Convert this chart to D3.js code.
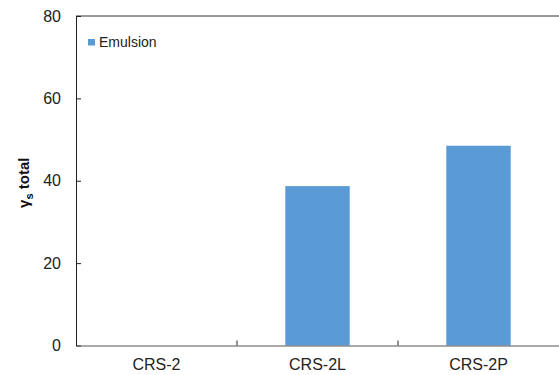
<!DOCTYPE html>
<html><head><meta charset="utf-8">
<script src="https://cdn.jsdelivr.net/npm/d3@7"></script>
<style>body{margin:0;background:#fff}svg{display:block}</style>
</head><body>
<script>
const categories = ["CRS-2", "CRS-2L", "CRS-2P"];
const emulsion = [0, 38.7, 48.5];
const yTicks = [0, 20, 40, 60, 80];
const seriesName = "Emulsion";

const W = 559, H = 375;
const m = {left: 76, right: 0, top: 16, bottom: 29.5};
const svg = d3.select("body").append("svg").attr("width", W).attr("height", H);
const x = d3.scaleBand().domain(categories).range([m.left, W - m.right]);
const y = d3.scaleLinear().domain([0, 80]).range([H - m.bottom, m.top]);
const font = "Liberation Sans, Arial, sans-serif";

// bars
const bw = x.bandwidth() * 0.4;
svg.selectAll("rect.bar").data(categories).enter().append("rect")
  .attr("x", (d) => x(d) + (x.bandwidth() - bw) / 2)
  .attr("y", (d, i) => y(emulsion[i]))
  .attr("width", bw)
  .attr("height", (d, i) => y(0) - y(emulsion[i]))
  .attr("fill", "#5b9bd5");

// frame: top
svg.append("line").attr("x1", m.left).attr("x2", W).attr("y1", y(80)).attr("y2", y(80))
  .attr("stroke", "#333").attr("stroke-width", 1);

// y axis
const ya = svg.append("g").attr("transform", `translate(${m.left},0)`)
  .call(d3.axisLeft(y).tickValues(yTicks).tickSizeInner(-5).tickSizeOuter(0).tickPadding(15));
ya.select(".domain").attr("stroke", "#222");
ya.selectAll(".tick line").attr("stroke", "#222");
ya.selectAll("text").attr("font-family", font).attr("font-size", 16).attr("fill", "#222");

// x axis
const xa = svg.append("g").attr("transform", `translate(0,${y(0)})`)
  .call(d3.axisBottom(x).tickSize(0).tickPadding(13));
xa.select(".domain").attr("stroke", "#555");
xa.selectAll("text").attr("font-family", font).attr("font-size", 16).attr("fill", "#222");
// category separator ticks (inside)
svg.selectAll("line.sep").data(categories.slice(1)).enter().append("line")
  .attr("x1", (d) => x(d)).attr("x2", (d) => x(d))
  .attr("y1", y(0)).attr("y2", y(0) - 5).attr("stroke", "#222");

// y title
const t = svg.append("text")
  .attr("transform", `translate(29,${(y(0) + y(80)) / 2 + 2}) rotate(-90)`)
  .attr("text-anchor", "middle").attr("font-family", font)
  .attr("font-size", 15).attr("font-weight", "bold").attr("fill", "#111");
t.append("tspan").text("γ");
t.append("tspan").attr("dy", 4).attr("font-size", 11).text("s");
t.append("tspan").attr("dy", -4).text(" total");

// legend
svg.append("rect").attr("x", 88).attr("y", 39).attr("width", 7).attr("height", 6.5).attr("fill", "#5b9bd5");
svg.append("text").attr("x", 99).attr("y", 47).attr("font-family", font)
  .attr("font-size", 14).attr("fill", "#222").text(seriesName);
</script>
</body></html>
